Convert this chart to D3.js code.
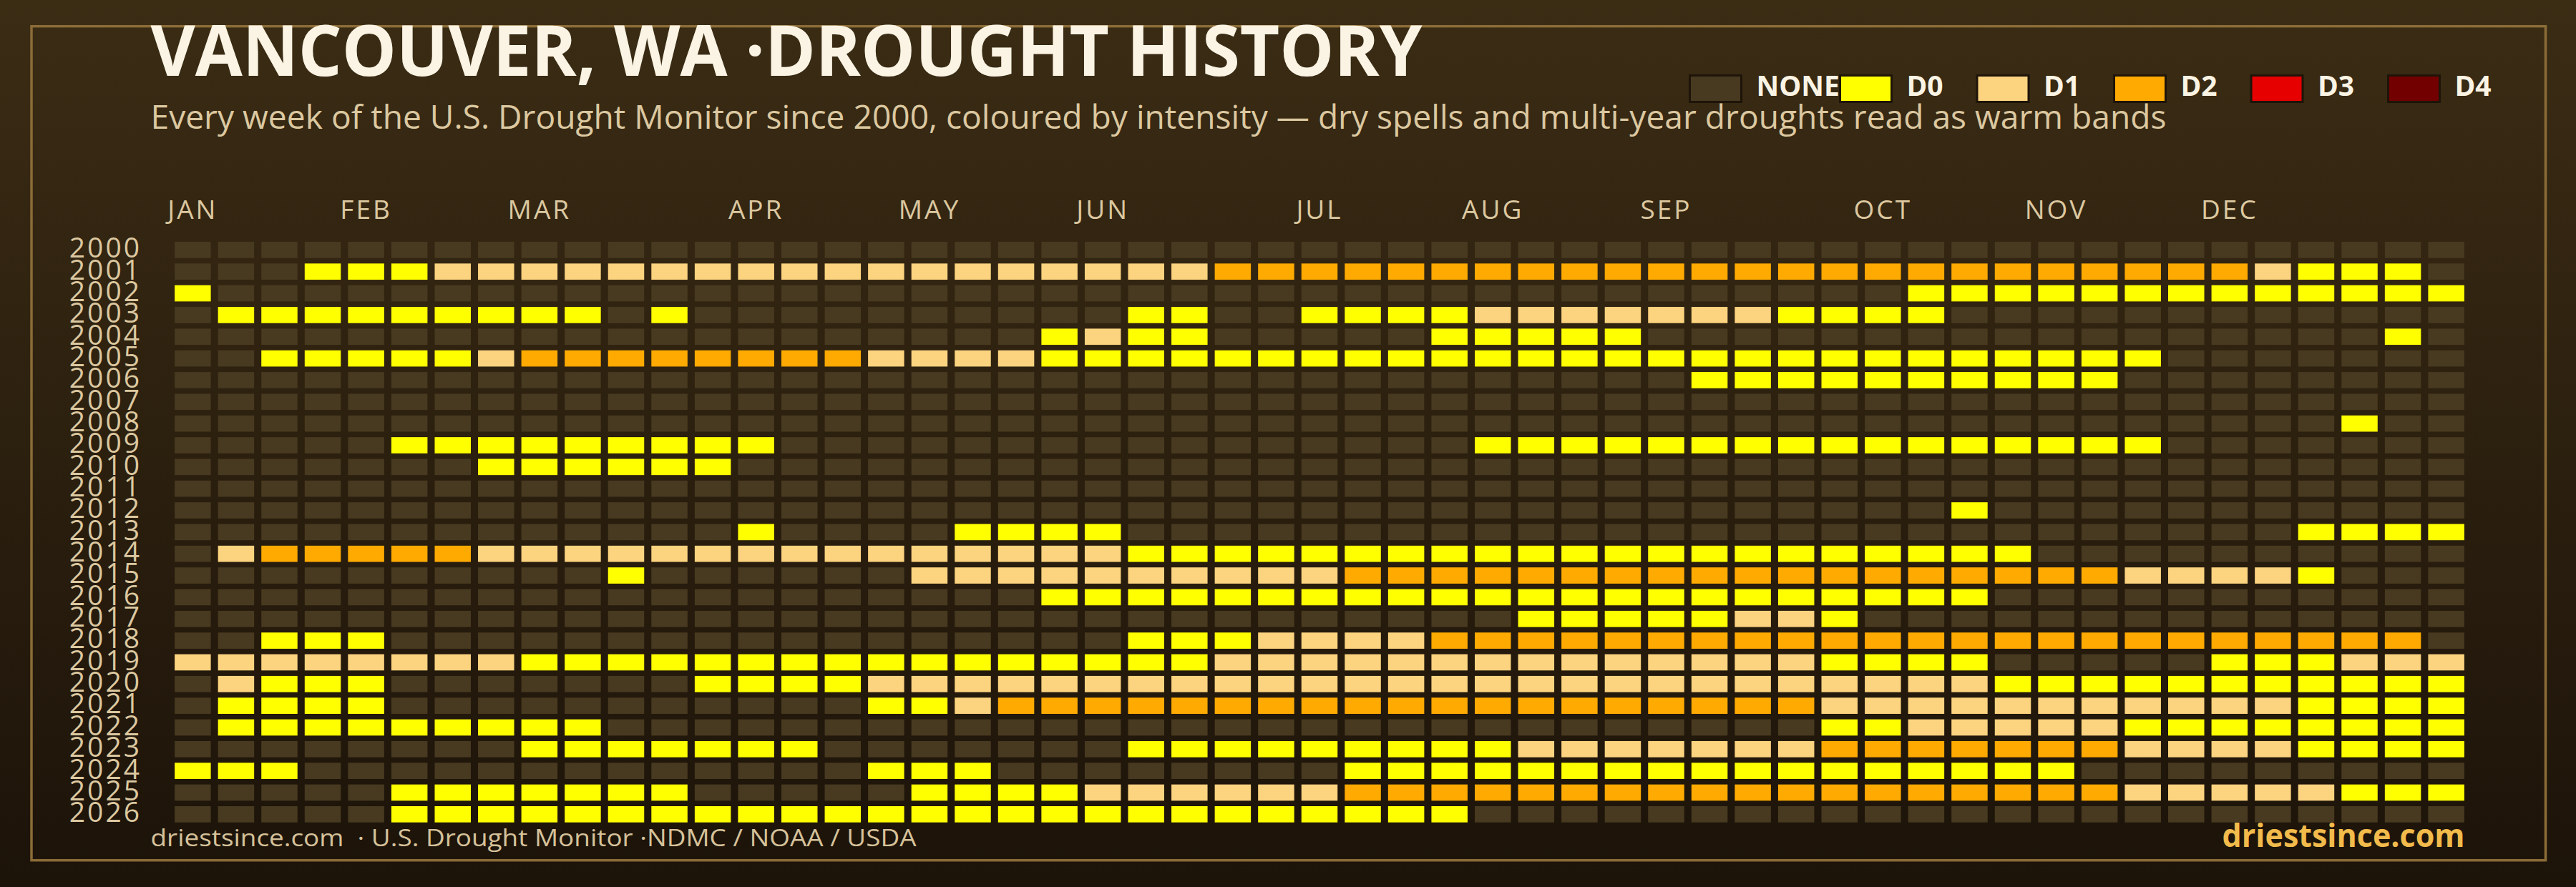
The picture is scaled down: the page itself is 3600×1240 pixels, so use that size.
<!DOCTYPE html>
<html>
<head>
<meta charset="utf-8">
<script src="https://cdn.jsdelivr.net/npm/d3@7"></script>
<style>
html,body{margin:0;padding:0;background:#1c1309;}
svg{display:block;}
</style>
</head>
<body>
<svg id="chart" width="3600" height="1240"></svg>
<script>
// ---------------- DATA ----------------
const years = [2000,2001,2002,2003,2004,2005,2006,2007,2008,2009,2010,2011,2012,2013,2014,2015,2016,2017,2018,2019,2020,2021,2022,2023,2024,2025,2026];
const weeks = d3.range(53);
const monthLabels = ["JAN","FEB","MAR","APR","MAY","JUN","JUL","AUG","SEP","OCT","NOV","DEC"];
const monthWeeks  = [0,4,8,13,17,21,26,30,34,39,43,47];
const levels = ["NONE","D0","D1","D2","D3","D4"];
const levelColors = ["#483a20","#ffff00","#fcd37f","#ffaa00","#e60000","#730000"];

// intensity per week: 0 = none, 1 = D0, 2 = D1, 3 = D2, 4 = D3, 5 = D4
const w2000 = [0,0,0,0,0,0,0,0,0,0, 0,0,0,0,0,0,0,0,0,0, 0,0,0,0,0,0,0,0,0,0, 0,0,0,0,0,0,0,0,0,0, 0,0,0,0,0,0,0,0,0,0, 0,0,0];
const w2001 = [0,0,0,1,1,1,2,2,2,2, 2,2,2,2,2,2,2,2,2,2, 2,2,2,2,3,3,3,3,3,3, 3,3,3,3,3,3,3,3,3,3, 3,3,3,3,3,3,3,3,2,1, 1,1,0];
const w2002 = [1,0,0,0,0,0,0,0,0,0, 0,0,0,0,0,0,0,0,0,0, 0,0,0,0,0,0,0,0,0,0, 0,0,0,0,0,0,0,0,0,0, 1,1,1,1,1,1,1,1,1,1, 1,1,1];
const w2003 = [0,1,1,1,1,1,1,1,1,1, 0,1,0,0,0,0,0,0,0,0, 0,0,1,1,0,0,1,1,1,1, 2,2,2,2,2,2,2,1,1,1, 1,0,0,0,0,0,0,0,0,0, 0,0,0];
const w2004 = [0,0,0,0,0,0,0,0,0,0, 0,0,0,0,0,0,0,0,0,0, 1,2,1,1,0,0,0,0,0,1, 1,1,1,1,0,0,0,0,0,0, 0,0,0,0,0,0,0,0,0,0, 0,1,0];
const w2005 = [0,0,1,1,1,1,1,2,3,3, 3,3,3,3,3,3,2,2,2,2, 1,1,1,1,1,1,1,1,1,1, 1,1,1,1,1,1,1,1,1,1, 1,1,1,1,1,1,0,0,0,0, 0,0,0];
const w2006 = [0,0,0,0,0,0,0,0,0,0, 0,0,0,0,0,0,0,0,0,0, 0,0,0,0,0,0,0,0,0,0, 0,0,0,0,0,1,1,1,1,1, 1,1,1,1,1,0,0,0,0,0, 0,0,0];
const w2007 = [0,0,0,0,0,0,0,0,0,0, 0,0,0,0,0,0,0,0,0,0, 0,0,0,0,0,0,0,0,0,0, 0,0,0,0,0,0,0,0,0,0, 0,0,0,0,0,0,0,0,0,0, 0,0,0];
const w2008 = [0,0,0,0,0,0,0,0,0,0, 0,0,0,0,0,0,0,0,0,0, 0,0,0,0,0,0,0,0,0,0, 0,0,0,0,0,0,0,0,0,0, 0,0,0,0,0,0,0,0,0,0, 1,0,0];
const w2009 = [0,0,0,0,0,1,1,1,1,1, 1,1,1,1,0,0,0,0,0,0, 0,0,0,0,0,0,0,0,0,0, 1,1,1,1,1,1,1,1,1,1, 1,1,1,1,1,1,0,0,0,0, 0,0,0];
const w2010 = [0,0,0,0,0,0,0,1,1,1, 1,1,1,0,0,0,0,0,0,0, 0,0,0,0,0,0,0,0,0,0, 0,0,0,0,0,0,0,0,0,0, 0,0,0,0,0,0,0,0,0,0, 0,0,0];
const w2011 = [0,0,0,0,0,0,0,0,0,0, 0,0,0,0,0,0,0,0,0,0, 0,0,0,0,0,0,0,0,0,0, 0,0,0,0,0,0,0,0,0,0, 0,0,0,0,0,0,0,0,0,0, 0,0,0];
const w2012 = [0,0,0,0,0,0,0,0,0,0, 0,0,0,0,0,0,0,0,0,0, 0,0,0,0,0,0,0,0,0,0, 0,0,0,0,0,0,0,0,0,0, 0,1,0,0,0,0,0,0,0,0, 0,0,0];
const w2013 = [0,0,0,0,0,0,0,0,0,0, 0,0,0,1,0,0,0,0,1,1, 1,1,0,0,0,0,0,0,0,0, 0,0,0,0,0,0,0,0,0,0, 0,0,0,0,0,0,0,0,0,1, 1,1,1];
const w2014 = [0,2,3,3,3,3,3,2,2,2, 2,2,2,2,2,2,2,2,2,2, 2,2,1,1,1,1,1,1,1,1, 1,1,1,1,1,1,1,1,1,1, 1,1,1,0,0,0,0,0,0,0, 0,0,0];
const w2015 = [0,0,0,0,0,0,0,0,0,0, 1,0,0,0,0,0,0,2,2,2, 2,2,2,2,2,2,2,3,3,3, 3,3,3,3,3,3,3,3,3,3, 3,3,3,3,3,2,2,2,2,1, 0,0,0];
const w2016 = [0,0,0,0,0,0,0,0,0,0, 0,0,0,0,0,0,0,0,0,0, 1,1,1,1,1,1,1,1,1,1, 1,1,1,1,1,1,1,1,1,1, 1,1,0,0,0,0,0,0,0,0, 0,0,0];
const w2017 = [0,0,0,0,0,0,0,0,0,0, 0,0,0,0,0,0,0,0,0,0, 0,0,0,0,0,0,0,0,0,0, 0,1,1,1,1,1,2,2,1,0, 0,0,0,0,0,0,0,0,0,0, 0,0,0];
const w2018 = [0,0,1,1,1,0,0,0,0,0, 0,0,0,0,0,0,0,0,0,0, 0,0,1,1,1,2,2,2,2,3, 3,3,3,3,3,3,3,3,3,3, 3,3,3,3,3,3,3,3,3,3, 3,3,0];
const w2019 = [2,2,2,2,2,2,2,2,1,1, 1,1,1,1,1,1,1,1,1,1, 1,1,1,1,2,2,2,2,2,2, 2,2,2,2,2,2,2,2,1,1, 1,1,0,0,0,0,0,1,1,1, 2,2,2];
const w2020 = [0,2,1,1,1,0,0,0,0,0, 0,0,1,1,1,1,2,2,2,2, 2,2,2,2,2,2,2,2,2,2, 2,2,2,2,2,2,2,2,2,2, 2,2,1,1,1,1,1,1,1,1, 1,1,1];
const w2021 = [0,1,1,1,1,0,0,0,0,0, 0,0,0,0,0,0,1,1,2,3, 3,3,3,3,3,3,3,3,3,3, 3,3,3,3,3,3,3,3,2,2, 2,2,2,2,2,2,2,2,2,1, 1,1,1];
const w2022 = [0,1,1,1,1,1,1,1,1,1, 0,0,0,0,0,0,0,0,0,0, 0,0,0,0,0,0,0,0,0,0, 0,0,0,0,0,0,0,0,1,1, 2,2,2,2,2,1,1,1,1,1, 1,1,1];
const w2023 = [0,0,0,0,0,0,0,0,1,1, 1,1,1,1,1,0,0,0,0,0, 0,0,1,1,1,1,1,1,1,1, 1,2,2,2,2,2,2,2,3,3, 3,3,3,3,3,2,2,2,2,1, 1,1,1];
const w2024 = [1,1,1,0,0,0,0,0,0,0, 0,0,0,0,0,0,1,1,1,0, 0,0,0,0,0,0,0,1,1,1, 1,1,1,1,1,1,1,1,1,1, 1,1,1,1,0,0,0,0,0,0, 0,0,0];
const w2025 = [0,0,0,0,0,1,1,1,1,1, 1,1,0,0,0,0,0,1,1,1, 1,2,2,2,2,2,2,3,3,3, 3,3,3,3,3,3,3,3,3,3, 3,3,3,3,3,2,2,2,2,2, 1,1,1];
const w2026 = [0,0,0,0,0,1,1,1,1,1, 1,1,1,1,1,1,1,1,1,1, 1,1,1,1,1,1,1,1,1,1, 0,0,0,0,0,0,0,0,0,0, 0,0,0,0,0,0,0,0,0,0, 0,0,0];

const rows = [w2000,w2001,w2002,w2003,w2004,w2005,w2006,w2007,w2008,w2009,w2010,w2011,w2012,w2013,
              w2014,w2015,w2016,w2017,w2018,w2019,w2020,w2021,w2022,w2023,w2024,w2025,w2026];

// ---------------- CHART ----------------
const W = 3600, H = 1240;
const svg = d3.select("#chart");
const SANS = "'Open Sans', 'Noto Sans', sans-serif";

const defs = svg.append("defs");
const grad = defs.append("linearGradient").attr("id","bg").attr("x1",0).attr("y1",0).attr("x2",0).attr("y2",1);
grad.append("stop").attr("offset","0%").attr("stop-color","#3b2c14");
grad.append("stop").attr("offset","100%").attr("stop-color","#1c1309");
svg.append("rect").attr("width",W).attr("height",H).attr("fill","url(#bg)");

// frame
svg.append("rect").attr("x",44).attr("y",36.7).attr("width",3513.5).attr("height",1166)
  .attr("fill","none").attr("stroke","#8b6c37").attr("stroke-width",3.5);

const x = d3.scaleBand().domain(weeks).range([244.1, 3443.9]).paddingInner(0.166).paddingOuter(0);
const y = d3.scaleBand().domain(years).range([338, 1149.7]).paddingInner(0.252).paddingOuter(0);
const color = d3.scaleOrdinal().domain(d3.range(levels.length)).range(levelColors);

// cells
const cells = [];
rows.forEach((r, i) => r.forEach((v, j) => cells.push({year: years[i], week: weeks[j], v})));
svg.append("g").selectAll("rect").data(cells).join("rect")
  .attr("x", d => x(d.week)).attr("y", d => y(d.year))
  .attr("width", x.bandwidth()).attr("height", y.bandwidth())
  .attr("fill", d => color(d.v));

// month axis
const xAxis = d3.axisTop(x).tickValues(monthWeeks)
  .tickFormat(d => monthLabels[monthWeeks.indexOf(d)]).tickSize(0);
const gx = svg.append("g").attr("transform","translate(0,306)").call(xAxis);
gx.select(".domain").remove();
gx.attr("font-family", SANS).attr("font-size", 37);
gx.selectAll("text").attr("y",0).attr("dy",0).attr("fill","#dcc8a0").attr("letter-spacing","3px");

// year axis
const yAxis = d3.axisLeft(y).tickSize(0);
const gy = svg.append("g").attr("transform","translate(198,0)").call(yAxis);
gy.select(".domain").remove();
gy.attr("font-family", SANS).attr("font-size", 39);
gy.selectAll("text").attr("x",0).attr("dy",0).attr("y", y.bandwidth()/2 - 0.5)
  .attr("fill","#dcc8a0").attr("letter-spacing","3px");

// title & subtitle
svg.append("text").attr("x",210.5).attr("y",106)
  .attr("font-family",SANS).attr("font-weight",700).attr("font-size",99)
  .attr("fill","#fbf4e4").attr("textLength",1777).attr("lengthAdjust","spacingAndGlyphs")
  .text("VANCOUVER, WA ·DROUGHT HISTORY");
svg.append("text").attr("x",210.5).attr("y",180)
  .attr("font-family",SANS).attr("font-size",46)
  .attr("fill","#dcc8a0").attr("textLength",2817).attr("lengthAdjust","spacingAndGlyphs")
  .text("Every week of the U.S. Drought Monitor since 2000, coloured by intensity — dry spells and multi-year droughts read as warm bands");

// legend
const legendX = (i) => i === 0 ? 2361.5 : 2571.5 + (i - 1) * 191.5;
const lg = svg.append("g").selectAll("g").data(levels).join("g")
  .attr("transform", (d, i) => `translate(${legendX(i)},105.5)`);
lg.append("rect").attr("width",72).attr("height",37)
  .attr("fill", (d, i) => levelColors[i]).attr("stroke","#1e1409").attr("stroke-width",3);
lg.append("text").attr("x",93).attr("y",28)
  .attr("font-family",SANS).attr("font-weight",700).attr("font-size",39)
  .attr("fill","#fbf4e4").text(d => d);

// footer
svg.append("text").attr("x",210.5).attr("y",1183.3)
  .attr("font-family",SANS).attr("font-size",33).attr("fill","#d6c29a")
  .style("white-space","pre")
  .attr("textLength",1070).attr("lengthAdjust","spacingAndGlyphs")
  .text("driestsince.com  · U.S. Drought Monitor ·NDMC / NOAA / USDA");
svg.append("text").attr("x",3444.6).attr("y",1184).attr("text-anchor","end")
  .attr("font-family",SANS).attr("font-weight",700).attr("font-size",45).attr("fill","#f2bb4b")
  .attr("textLength",339).attr("lengthAdjust","spacingAndGlyphs")
  .text("driestsince.com");
</script>
</body>
</html>
